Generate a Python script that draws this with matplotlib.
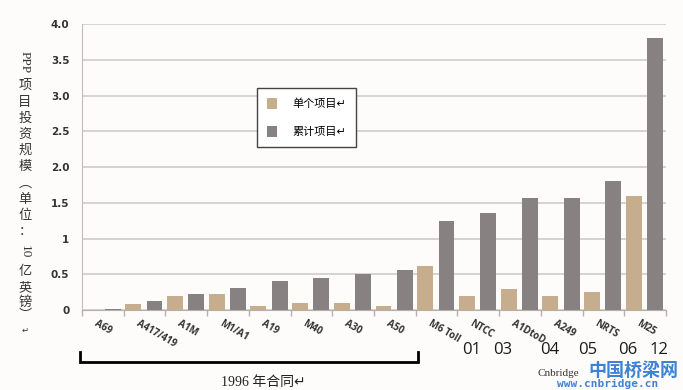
import matplotlib.pyplot as plt
import numpy as np
from matplotlib.patches import Patch

# data (unit: 10 亿英镑)
projects = ['A69', 'A417/419', 'A1M', 'M1/A1', 'A19', 'M40', 'A30', 'A50',
            'M6 Toll', 'NTCC', 'A1DtoD', 'A249', 'NRTS', 'M25']
single = [0.005, 0.09, 0.20, 0.23, 0.06, 0.095, 0.095, 0.05,
          0.61, 0.20, 0.30, 0.20, 0.25, 1.60]
cumulative = [0.01, 0.12, 0.23, 0.31, 0.40, 0.45, 0.50, 0.56,
              1.25, 1.36, 1.57, 1.57, 1.80, 3.81]
ytick_vals = [0, 0.5, 1, 1.5, 2, 2.5, 3, 3.5, 4]
ytick_text = ['0', '0.5', '1', '1.5', '2.0', '2.5', '3.0', '3.5', '4.0']
year_labels = ['01', '03', '04', '05', '06', '12']
year_pos = [9.35, 10.09, 11.22, 12.13, 13.09, 13.83]

tan = '#c6ad8e'
grey = '#878281'
cjk = ['Liberation Serif', 'Noto Sans CJK SC', 'DejaVu Sans']

fig = plt.figure(figsize=(6.83, 3.9), dpi=100)
fig.patch.set_facecolor('#fdfcfb')
ax = fig.add_axes([0.120, 0.205, 0.855, 0.733])
ax.set_facecolor('#fdfcfb')

x = np.arange(len(projects))
ax.bar(x + 0.23, single, width=0.38, color=tan, zorder=3)
ax.bar(x + 0.74, cumulative, width=0.38, color=grey, zorder=3)

ax.set_xlim(0, 14)
ax.set_ylim(0, 4.0)
ax.set_yticks(ytick_vals)
ax.set_yticklabels(ytick_text, fontsize=7.5, fontweight='bold', color='#333333',
                   family='DejaVu Sans')
ax.tick_params(axis='y', length=0, pad=9)
ax.yaxis.grid(True, color='#cbc8c1', lw=1.1, zorder=0)

ax.set_xticks(x + 0.38)
ax.set_xticklabels(projects, rotation=-30, ha='left', va='top', rotation_mode='anchor',
                   fontsize=7, fontweight='bold', color='#333333', family='Open Sans')
ax.tick_params(axis='x', length=0, pad=6)
ax.set_xticks(np.arange(0, 15), minor=True)
ax.tick_params(axis='x', which='minor', length=4, color='#b5b1aa', width=1)

for s in ['top', 'right']:
    ax.spines[s].set_visible(False)
ax.spines['left'].set_color('#c2beb7')
ax.spines['bottom'].set_color('#b5b1aa')

# legend
handles = [Patch(facecolor=tan, edgecolor='none'), Patch(facecolor=grey, edgecolor='none')]
leg = ax.legend(handles, ['单个项目↵', '累计项目↵'], loc='upper left',
                bbox_to_anchor=(0.30, 0.776), prop={'family': cjk, 'size': 8},
                handlelength=0.85, handleheight=1.1, labelspacing=1.5, borderpad=0.9,
                handletextpad=1.4, fancybox=False, framealpha=1, borderaxespad=0)
leg.get_frame().set_edgecolor('#444444')
leg.get_frame().set_linewidth(1.0)

# year labels under the later projects
tr = ax.get_xaxis_transform()
for lab, p in zip(year_labels, year_pos):
    ax.text(p, -0.14, lab, transform=tr, ha='center', va='center', fontsize=12,
            family='Open Sans', color='#1a1a1a')

# bracket for the 1996 contracts
ax.plot([-0.05, -0.05, 8.06, 8.06], [-0.147, -0.182, -0.182, -0.147], transform=tr,
        color='black', lw=2, clip_on=False, solid_joinstyle='miter')
ax.text(4.35, -0.252, '1996 年合同↵', transform=tr, ha='center', va='center',
        fontsize=10, family=cjk, color='#222222')

# vertical y-axis title, characters stacked
ylab = [('PPP', 62, -90), ('项', 86, 0), ('目', 103, 0), ('投', 119, 0), ('资', 135, 0),
        ('规', 151, 0), ('模', 167, 0), ('︵', 184, 0), ('单', 200, 0), ('位', 216, 0),
        ('：', 232, 0), ('10', 252, -90), ('亿', 272, 0), ('英', 288, 0), ('镑', 303, 0),
        ('︶', 316, 0), ('↵', 331, 0)]
for ch, ypx, rot in ylab:
    fig.text(25 / 683, 1 - ypx / 390, ch, ha='center', va='center', rotation=rot,
             fontsize=9.5 if ch != '↵' else 6, family=cjk, color='#333333')

# watermark
fig.text(558 / 683, 1 - 373 / 390, 'Cnbridge', ha='center', va='center', fontsize=8,
         family='Liberation Serif', color='#333333')
fig.text(633 / 683, 1 - 370 / 390, '中国桥梁网', ha='center', va='center', fontsize=13,
         family='Noto Sans CJK SC', fontweight='bold', color='#3d82d6')
fig.text(608 / 683, 1 - 384 / 390, 'www.cnbridge.cn', ha='center', va='center', fontsize=8,
         family='DejaVu Sans Mono', fontweight='bold', color='#3d82d6')

fig.savefig('out.png', dpi=100, facecolor=fig.get_facecolor())
